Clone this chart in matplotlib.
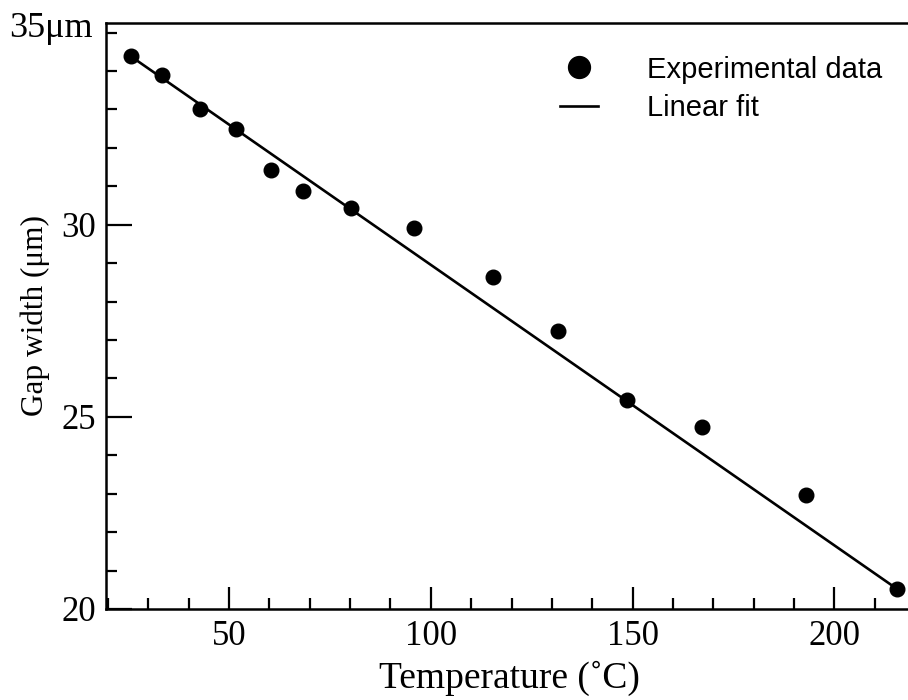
import numpy as np
import matplotlib.pyplot as plt
from matplotlib.ticker import MultipleLocator

# Gap width vs temperature
temperature = [25.7, 33.4, 42.8, 51.7, 60.4, 68.4, 80.3, 95.9, 115.3, 131.4, 148.5, 167.1, 192.9, 215.5]
gap_width = [34.38, 33.90, 33.02, 32.50, 31.43, 30.89, 30.44, 29.92, 28.65, 27.24, 25.44, 24.74, 22.97, 20.52]

# linear fit line as drawn in the figure
fit_slope = -0.0730
fit_intercept = 36.256
fit_x = np.array([min(temperature), max(temperature)])
fit_y = fit_slope * fit_x + fit_intercept

serif = 'Liberation Serif'
sans = 'Liberation Sans'

fig = plt.figure(figsize=(9.08, 7.0), dpi=100)
ax = fig.add_axes([106 / 908, 1 - 609 / 700, 1 - 106 / 908 + 0.01, (609 - 23) / 700])

ax.plot(fit_x, fit_y, color='black', lw=1.9, label='Linear fit', zorder=2)
ax.plot(temperature, gap_width, 'o', color='black', ms=10.5, label='Experimental data', zorder=3)

ax.set_xlim(19.5, 220.5)
ax.set_ylim(20, 35.25)

ax.xaxis.set_major_locator(MultipleLocator(50))
ax.xaxis.set_minor_locator(MultipleLocator(10))
ax.yaxis.set_major_locator(MultipleLocator(5))
ax.yaxis.set_minor_locator(MultipleLocator(1))
ax.set_xticks([50, 100, 150, 200])
ax.set_yticks([20, 25, 30])

ax.tick_params(which='major', direction='in', length=16, width=1.6, labelsize=25, pad=8)
ax.tick_params(which='minor', direction='in', length=8, width=1.6)
ax.tick_params(axis='y', which='major', length=19, pad=7)
ax.tick_params(top=False, right=False, which='both')
for lab in ax.get_xticklabels() + ax.get_yticklabels():
    lab.set_fontfamily(serif)

ax.spines['right'].set_visible(False)
for s in ['left', 'bottom', 'top']:
    ax.spines[s].set_linewidth(1.8)

ax.text(-0.016, 0.99, '35\u03bcm', transform=ax.transAxes, ha='right', va='center',
        fontsize=26, family=serif)

ax.set_xlabel('Temperature (\u02daC)', fontsize=27, family=serif)
ax.xaxis.set_label_coords((509 - 106) / 810, -0.088)
ax.set_ylabel('Gap width (\u03bcm)', fontsize=22.5, family=serif, labelpad=8)

handles, labels = ax.get_legend_handles_labels()
leg = ax.legend(handles[::-1], labels[::-1], loc='upper left', frameon=False,
                bbox_to_anchor=(548 / 908, 1 - 44 / 700), bbox_transform=fig.transFigure,
                prop={'family': sans, 'size': 21}, handlelength=1.3, handletextpad=1.7,
                labelspacing=0.35, markerscale=1.5, borderaxespad=0)

fig.savefig('out.png', dpi=100)
